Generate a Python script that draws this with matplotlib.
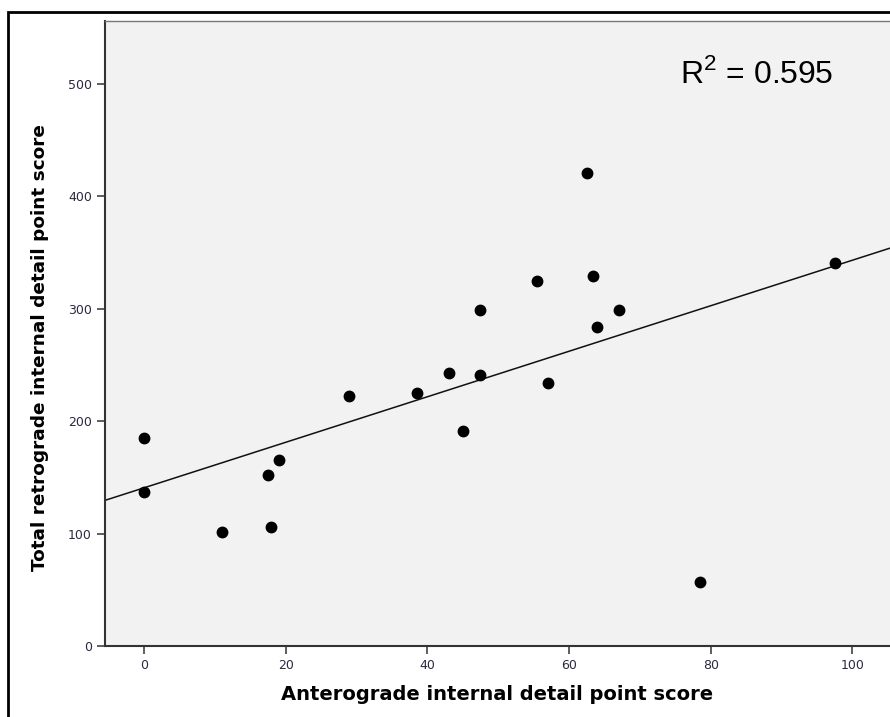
import numpy as np
import matplotlib.pyplot as plt
from matplotlib.patches import Rectangle

# scores
antero = [0, 0, 11, 17.5, 18, 19, 29, 38.5, 43, 45, 47.5, 47.5,
          55.5, 57, 62.5, 63.4, 64, 67, 78.5, 97.5]
retro = [184.8, 136.7, 101.4, 152.1, 106.2, 165.2, 222.7, 225.4, 242.9, 191.6,
         298.7, 240.8, 324.7, 234.3, 420.8, 329.2, 283.8, 299.2, 57.2, 340.7]
x_ticks = [0, 20, 40, 60, 80, 100]
y_ticks = [0, 100, 200, 300, 400, 500]
r2_text = "R$^\\mathregular{2}$ = 0.595"

fig = plt.figure(figsize=(8.9, 7.17), dpi=100)
ax = fig.add_axes([105 / 890, 1 - 646 / 717, 1 - 105 / 890, (646 - 21) / 717])
ax.set_facecolor('#f2f2f2')

# fit line
b, a = np.polyfit(antero, retro, 1)
xl = np.array([-5.5, 105.3])
ax.plot(xl, a + b * xl, color='#111111', lw=1.1, zorder=2)
ax.plot(antero, retro, 'o', color='black', ms=7.5, zorder=3)

ax.set_xlim(-5.5, 105.3)
ax.set_ylim(0, 556)
ax.set_xticks(x_ticks)
ax.set_yticks(y_ticks)
ax.tick_params(direction='out', length=6, width=1.1, color='#333333',
               labelsize=9, labelcolor='#2a2a40')

for s in ['left', 'bottom']:
    ax.spines[s].set_color('#333333')
    ax.spines[s].set_linewidth(1.5)
ax.spines['top'].set_color('#777777')
ax.spines['top'].set_linewidth(1.0)
ax.spines['right'].set_visible(False)

ax.set_xlabel('Anterograde internal detail point score', fontsize=14,
              fontweight='bold', labelpad=9)
ax.set_ylabel('Total retrograde internal detail point score', fontsize=13.3,
              fontweight='bold')
ax.yaxis.set_label_coords(-0.071, 0.477)

fig.text(680 / 890, 1 - 83 / 717, r2_text, fontsize=23, family='Liberation Sans',
         ha='left', va='baseline')

# outer frame
fig.patches.append(Rectangle((8 / 890, -0.05), 1.0, 1 - 12 / 717 + 0.05,
                             transform=fig.transFigure, fill=False,
                             edgecolor='black', lw=2.0))

fig.savefig('out.png', dpi=100)
